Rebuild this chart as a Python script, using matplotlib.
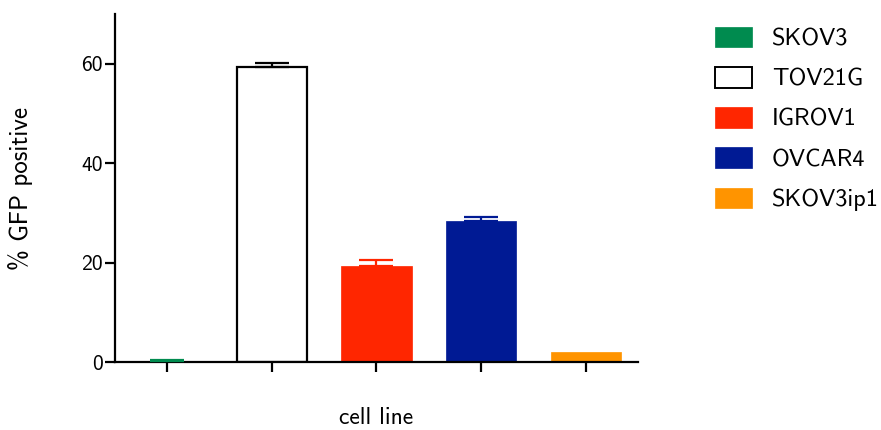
import numpy as np
import matplotlib
matplotlib.use('Agg')
import matplotlib.pyplot as plt
from matplotlib.patches import Patch

# data
cell_lines = ['SKOV3', 'TOV21G', 'IGROV1', 'OVCAR4', 'SKOV3ip1']
gfp_pos = [0.3, 59.4, 19.3, 28.4, 2.0]
gfp_err = [0.1, 0.8, 1.2, 0.8, 0.0]
fills = ['#008B4F', 'white', '#FF2600', '#001A94', '#FF9400']
edges = ['#008B4F', 'black', '#FF2600', '#001A94', '#FF9400']
err_cols = ['#008B4F', 'black', '#FF2600', '#001A94', '#FF9400']

plt.rcParams['font.family'] = ['cmss10', 'DejaVu Sans']
plt.rcParams['axes.unicode_minus'] = False

W, H = 881, 430
fig = plt.figure(figsize=(W / 100, H / 100), dpi=100)
ax = fig.add_axes([115 / W, 68 / H, 523 / W, 348 / H])

x = np.arange(len(cell_lines))
for i in range(len(cell_lines)):
    ax.bar(x[i], gfp_pos[i], width=0.67, color=fills[i], edgecolor=edges[i],
           linewidth=1.6 if fills[i] == 'white' else 0.5, zorder=2)
    if gfp_err[i] > 0:
        ax.errorbar(x[i], gfp_pos[i], yerr=[[0], [gfp_err[i]]], fmt='none',
                    ecolor=err_cols[i], elinewidth=1.6, capsize=12, capthick=1.6,
                    zorder=3)

ax.set_xlim(-0.5, 4.5)
ax.set_ylim(0, 70)
ax.set_yticks([0, 20, 40, 60])
ax.set_xticks(x)
ax.set_xticklabels([])
for s in ['top', 'right']:
    ax.spines[s].set_visible(False)
for s in ['left', 'bottom']:
    ax.spines[s].set_linewidth(1.6)
ax.tick_params(direction='out', length=7, width=1.6, labelsize=15.5, pad=2)

ax.set_ylabel('% GFP positive', fontsize=18)
ax.yaxis.set_label_coords(-0.157, 0.5)
ax.set_xlabel('cell line', fontsize=17)
ax.xaxis.set_label_coords(0.5, -0.128)

handles = [Patch(facecolor=fills[i], edgecolor=edges[i],
                 linewidth=1.4 if fills[i] == 'white' else 0.5)
           for i in range(len(cell_lines))]
fig.legend(handles, cell_lines, loc='upper left',
           bbox_to_anchor=(715 / W, 1 - 27 / H), borderpad=0, borderaxespad=0,
           frameon=False, fontsize=17.5, handlelength=1.53, handleheight=0.92,
           labelspacing=0.68, handletextpad=0.8)

fig.savefig('out.png', dpi=100)
